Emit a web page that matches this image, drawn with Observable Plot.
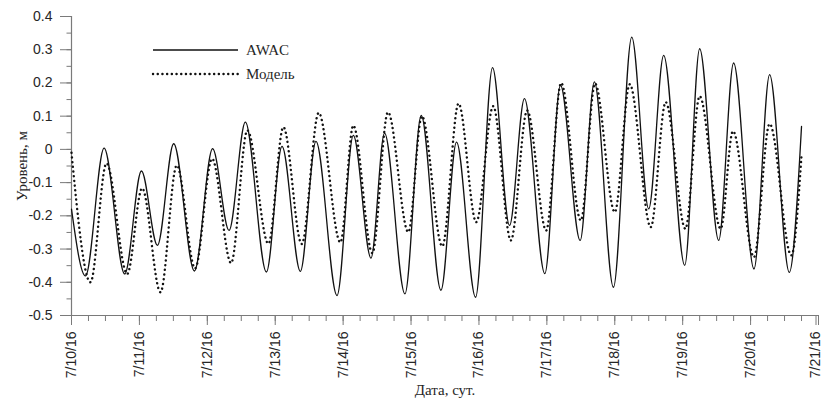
<!DOCTYPE html>
<html><head><meta charset="utf-8">
<script src="https://cdn.jsdelivr.net/npm/d3@7"></script>
<script src="https://cdn.jsdelivr.net/npm/@observablehq/plot@0.6"></script>
<style>
body{margin:0;background:#fff}
#wrap{position:relative;width:823px;height:405px;overflow:hidden}
#legend{position:absolute;left:0;top:0;pointer-events:none}
</style></head><body><div id="wrap"></div>
<script>
// Categories / tick labels
const xTickLabels = ["7/10/16","7/11/16","7/12/16","7/13/16","7/14/16","7/15/16","7/16/16","7/17/16","7/18/16","7/19/16","7/20/16","7/21/16"];
const yTickValues = [-0.5,-0.4,-0.3,-0.2,-0.1,0,0.1,0.2,0.3,0.4];
const seriesNames = ["AWAC","Модель"];

// AWAC: time (days since 7/10/16 00:00) and level (m), read at extremes
const awacT = [0,0.206,0.48,0.784,1.03,1.265,1.505,1.81,2.078,2.32,2.56,2.87,3.1,3.37,3.6,3.91,4.15,4.41,4.61,4.91,5.15,5.44,5.67,5.95,6.2,6.45,6.67,6.97,7.2,7.49,7.70,7.98,8.25,8.5,8.72,9.03,9.25,9.53,9.75,10.05,10.28,10.57,10.75];
const awacV = [-0.18,-0.381,0.004,-0.375,-0.065,-0.289,0.017,-0.366,0.002,-0.244,0.082,-0.369,0.009,-0.367,0.024,-0.44,0.042,-0.327,0.049,-0.435,0.102,-0.424,0.022,-0.445,0.246,-0.229,0.153,-0.374,0.193,-0.274,0.203,-0.415,0.338,-0.179,0.283,-0.349,0.303,-0.274,0.26,-0.36,0.225,-0.37,0.069];

// Model
const modelT = [0,0.279,0.515,0.82,1.04,1.31,1.55,1.82,2.07,2.35,2.59,2.9,3.12,3.39,3.64,3.96,4.15,4.43,4.66,4.96,5.16,5.46,5.70,5.96,6.21,6.47,6.71,6.99,7.21,7.5,7.71,8.0,8.22,8.53,8.75,9.04,9.25,9.56,9.74,10.05,10.28,10.6,10.75];
const modelV = [-0.01,-0.40,-0.042,-0.375,-0.117,-0.43,-0.048,-0.358,-0.028,-0.342,0.057,-0.284,0.067,-0.285,0.11,-0.28,0.072,-0.312,0.112,-0.249,0.1,-0.292,0.138,-0.219,0.13,-0.274,0.117,-0.244,0.2,-0.214,0.198,-0.189,0.196,-0.234,0.142,-0.239,0.16,-0.239,0.055,-0.324,0.077,-0.319,-0.018];

const awac = awacT.map((t, i) => ({t, v: awacV[i]}));
const model = modelT.map((t, i) => ({t, v: modelV[i]}));

const axisColor = "#7a7a7a";
const textColor = "#262626";
const nDays = xTickLabels.length - 1;
const xMajor = d3.range(0, nDays);          // all but the last
const xLast = [nDays];
const xMinor = d3.range(0, nDays * 4 + 1).map(i => i / 4);
const yMinor = d3.range(-10, 9).map(i => i / 20);

const chart = Plot.plot({
  width: 823, height: 405,
  marginLeft: 71, marginRight: 5, marginTop: 16, marginBottom: 90,
  x: {domain: [0, nDays]},
  y: {domain: [-0.5, 0.4]},
  style: {fontFamily: "'Liberation Sans', Arial, sans-serif", fontSize: "14px", color: textColor, background: "#fff"},
  marks: [
    Plot.axisY(yMinor, {tickSize: 4.5, tickFormat: () => "", stroke: axisColor, label: null}),
    Plot.axisY(yTickValues, {tickSize: 11, tickPadding: 8, stroke: axisColor, fill: textColor, label: null,
      tickFormat: d => Math.abs(d) < 1e-9 ? "0" : d.toFixed(1)}),
    Plot.axisX(xMinor, {tickSize: 6, tickFormat: () => "", stroke: axisColor, label: null}),
    Plot.axisX(xMajor, {tickSize: 10, tickPadding: 6, tickRotate: -90, stroke: axisColor, fill: textColor, label: null,
      tickFormat: d => xTickLabels[d]}),
    Plot.axisX(xLast, {tickSize: 10, tickPadding: 6, tickRotate: -90, stroke: axisColor, fill: textColor, label: null,
      tickFormat: d => xTickLabels[d], textStroke: "none", dx: -2.5}),
    Plot.axisX(xLast, {tickSize: 10, tickFormat: () => "", stroke: axisColor, label: null}),
    Plot.ruleX([0], {stroke: axisColor, strokeWidth: 1.2}),
    Plot.ruleY([-0.5], {stroke: axisColor, strokeWidth: 1.2}),
    Plot.line(model, {x: "t", y: "v", curve: "monotone-x", stroke: "#111",
      strokeWidth: 2.4, strokeDasharray: "0.1,4.6", strokeLinecap: "round"}),
    Plot.line(awac, {x: "t", y: "v", curve: "monotone-x", stroke: "#111", strokeWidth: 1.3}),
    Plot.text(["Уровень, м"], {text: d => d, frameAnchor: "left", dx: -49, rotate: -90,
      textAnchor: "middle", lineAnchor: "middle", fontFamily: "'Liberation Serif', 'Times New Roman', serif",
      fontSize: 15, fill: textColor}),
    Plot.text(["Дата, сут."], {text: d => d, frameAnchor: "bottom", dy: 75,
      textAnchor: "middle", lineAnchor: "middle", fontFamily: "'Liberation Serif', 'Times New Roman', serif",
      fontSize: 15, fill: textColor})
  ]
});

const wrap = document.getElementById("wrap");
wrap.appendChild(chart);

// legend overlay
const NS = "http://www.w3.org/2000/svg";
const lg = document.createElementNS(NS, "svg");
lg.setAttribute("id", "legend");
lg.setAttribute("width", 823);
lg.setAttribute("height", 405);
const styles = [
  {dash: null, width: 1.3, cap: "butt"},
  {dash: "0.1,4.6", width: 2.4, cap: "round"}
];
seriesNames.forEach((name, i) => {
  const y = 50 + i * 24;
  const ln = document.createElementNS(NS, "line");
  ln.setAttribute("x1", 153); ln.setAttribute("x2", 238);
  ln.setAttribute("y1", y); ln.setAttribute("y2", y);
  ln.setAttribute("stroke", "#111");
  ln.setAttribute("stroke-width", styles[i].width);
  ln.setAttribute("stroke-linecap", styles[i].cap);
  if (styles[i].dash) ln.setAttribute("stroke-dasharray", styles[i].dash);
  lg.appendChild(ln);
  const tx = document.createElementNS(NS, "text");
  tx.setAttribute("x", 246); tx.setAttribute("y", y);
  tx.setAttribute("dy", "0.35em");
  tx.setAttribute("font-family", "'Liberation Serif', 'Times New Roman', serif");
  tx.setAttribute("font-size", 15);
  tx.setAttribute("fill", textColor);
  tx.textContent = name;
  lg.appendChild(tx);
});
wrap.appendChild(lg);
</script></body></html>
